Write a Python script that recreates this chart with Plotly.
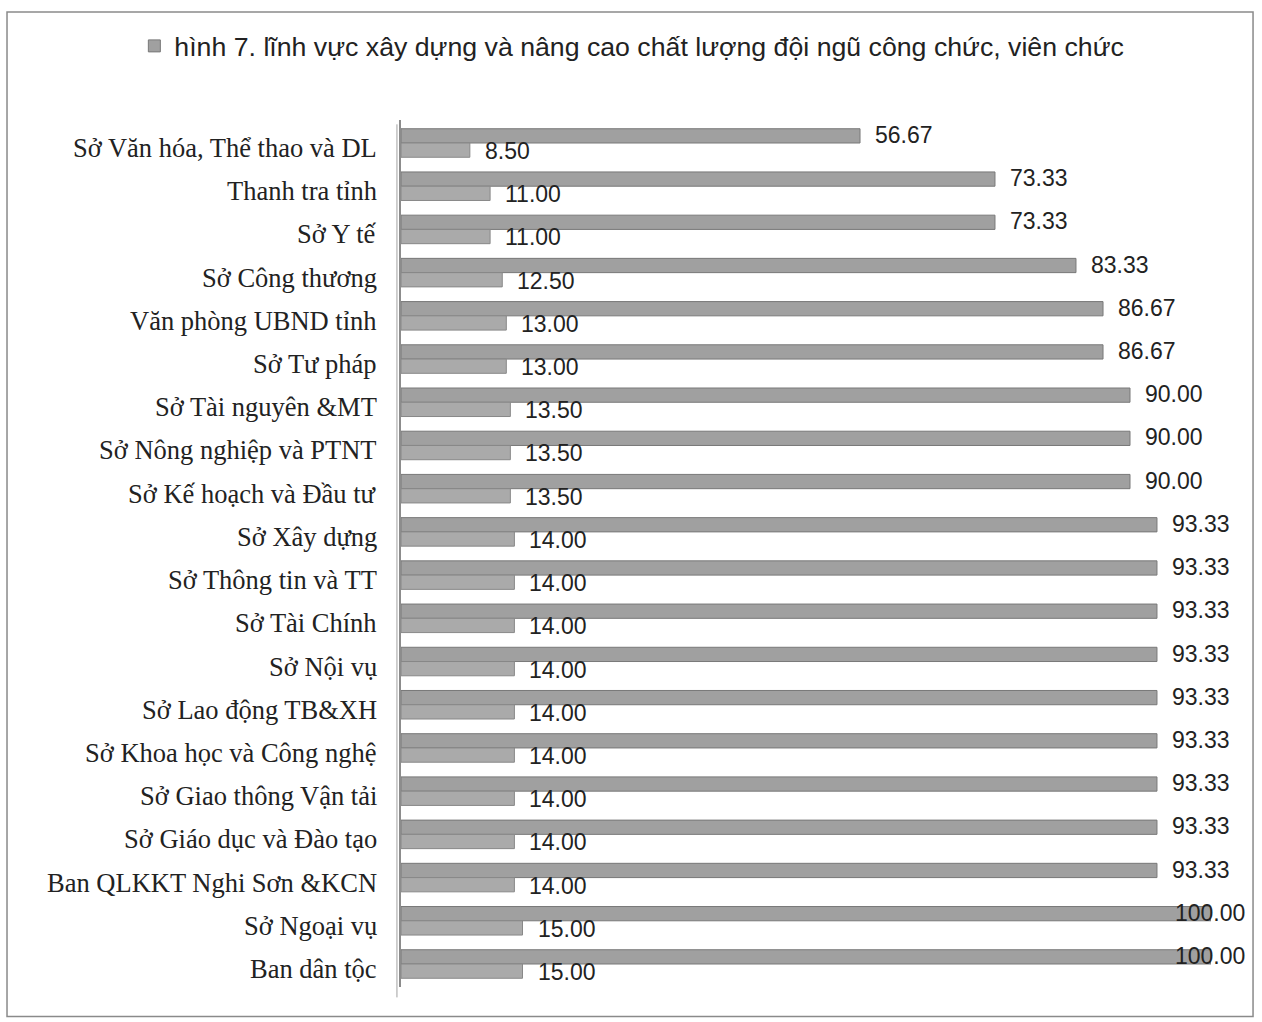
import plotly.graph_objects as go

categories = [
    "Sở Văn hóa, Thể thao và DL",
    "Thanh tra tỉnh",
    "Sở Y tế",
    "Sở Công thương",
    "Văn phòng UBND tỉnh",
    "Sở Tư pháp",
    "Sở Tài nguyên &MT",
    "Sở Nông nghiệp và PTNT",
    "Sở Kế hoạch và Đầu tư",
    "Sở Xây dựng",
    "Sở Thông tin và TT",
    "Sở Tài Chính",
    "Sở Nội vụ",
    "Sở Lao động TB&XH",
    "Sở Khoa học và Công nghệ",
    "Sở Giao thông Vận tải",
    "Sở Giáo dục và Đào tạo",
    "Ban QLKKT Nghi Sơn &KCN",
    "Sở Ngoại vụ",
    "Ban dân tộc",
]

percent_values = [56.67, 73.33, 73.33, 83.33, 86.67, 86.67, 90.00, 90.00, 90.00,
                  93.33, 93.33, 93.33, 93.33, 93.33, 93.33, 93.33, 93.33, 93.33,
                  100.00, 100.00]
score_values = [8.50, 11.00, 11.00, 12.50, 13.00, 13.00, 13.50, 13.50, 13.50,
                14.00, 14.00, 14.00, 14.00, 14.00, 14.00, 14.00, 14.00, 14.00,
                15.00, 15.00]

series_name = "hình 7. lĩnh vực xây dựng và nâng cao chất lượng đội ngũ công chức, viên chức"

fig = go.Figure()
fig.add_trace(go.Bar(
    y=categories, x=percent_values, orientation="h", name=series_name,
    marker=dict(color="#a0a0a0", line=dict(color="#787878", width=1)),
    showlegend=True, hoverinfo="x+y",
))
fig.add_trace(go.Bar(
    y=categories, x=score_values, orientation="h", name="điểm",
    marker=dict(color="#aaaaaa", line=dict(color="#888888", width=1)),
    showlegend=False, hoverinfo="x+y",
))

label_font = dict(family="Liberation Sans, Arial, sans-serif", size=23, color="#222222")
cat_font = dict(family="Liberation Serif, Times New Roman, serif", size=26.5, color="#222222")
annotations = []
for cat in categories:
    annotations.append(dict(
        x=0, y=cat, xref="paper", yref="y", text=cat, showarrow=False,
        xanchor="right", yanchor="middle", xshift=-22, yshift=-5, font=cat_font,
    ))
for cat, v in zip(categories, percent_values):
    annotations.append(dict(
        x=v, y=cat, xref="x", yref="y", text=f"{v:.2f}", showarrow=False,
        xanchor="left", yanchor="middle", xshift=(-38 if v >= 100 else 13), yshift=8,
        font=label_font,
    ))
for cat, v in zip(categories, score_values):
    annotations.append(dict(
        x=v, y=cat, xref="x", yref="y", text=f"{v:.2f}", showarrow=False,
        xanchor="left", yanchor="middle", xshift=13, yshift=-8,
        font=label_font,
    ))

fig.update_layout(
    width=1262, height=1022,
    margin=dict(l=401, r=51, t=120, b=35),
    paper_bgcolor="white", plot_bgcolor="white",
    barmode="group", bargap=0.34, bargroupgap=0.0,
    annotations=annotations,
    legend=dict(
        orientation="h", x=0.285, xanchor="center", y=1.113, yanchor="top",
        font=dict(family="Liberation Sans, Arial, sans-serif", size=26.7, color="#222222"),
        bgcolor="rgba(0,0,0,0)",
    ),
    xaxis=dict(range=[0, 100], showgrid=False, zeroline=False, showticklabels=False,
               showline=False, ticks="", fixedrange=True),
    yaxis=dict(autorange="reversed", showgrid=False, zeroline=False,
               showline=True, linecolor="#8c8c8c", linewidth=1.5, ticks="",
               showticklabels=False),
    shapes=[
        dict(type="rect", xref="paper", yref="paper",
             x0=-0.4864, x1=1.0519, y0=-0.034, y1=1.1246,
             line=dict(color="#8a8a8a", width=1.5), fillcolor="rgba(0,0,0,0)"),
        dict(type="line", xref="paper", yref="paper",
             x0=-0.005, x1=-0.005, y0=-0.012, y1=0.995,
             line=dict(color="#a0a0a0", width=1)),
    ],
    showlegend=True,
)

fig.write_html("out.html")
